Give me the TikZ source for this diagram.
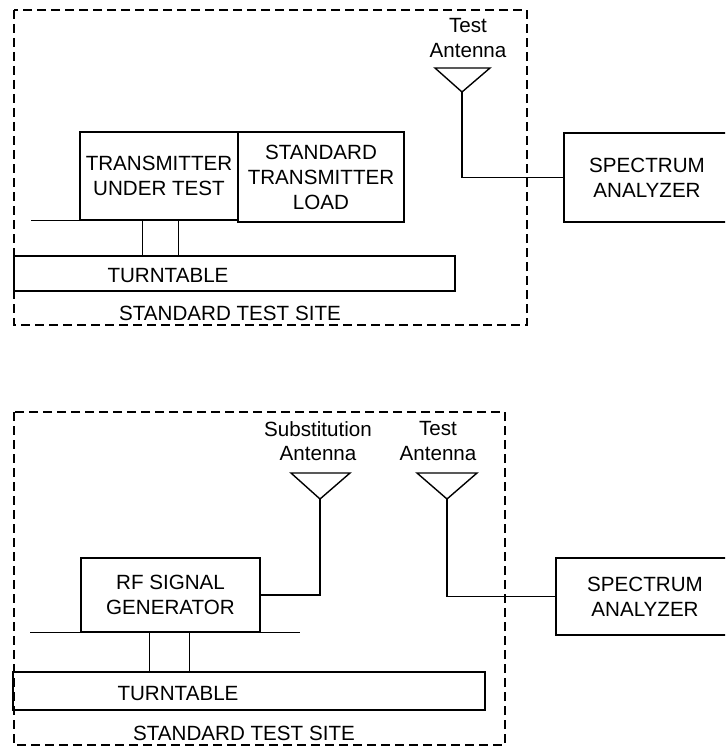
\documentclass[tikz,border=0pt]{standalone}
\usepackage{fontspec}
\setmainfont{Liberation Sans}
\begin{document}
\begin{tikzpicture}[
      x=1pt, y=-1pt,
      B/.style={draw, line width=1.4pt, align=center, inner sep=0pt, font=\fontsize{20.6}{25}\selectfont},
      T/.style={align=center, inner sep=0pt, font=\fontsize{20.6}{24.5}\selectfont},
      W/.style={line width=1.4pt},
      S/.style={dash pattern=on 9pt off 5pt, line width=1.6pt}
    ]
    \useasboundingbox (0,0) rectangle (725,749);
    \clip (0,0) rectangle (725,749);
    % upper setup
    \draw [S] (14,10) rectangle (527,325);
    \draw (159,176) node (tut) [B, minimum width=158pt, minimum height=88pt] {TRANSMITTER\\UNDER TEST};
    \draw (321,177) node (load) [B, minimum width=166pt, minimum height=90pt] {STANDARD\\TRANSMITTER\\LOAD};
    \draw (234.5,273.5) node (tt1) [B, minimum width=441pt, minimum height=35pt] {};
    \draw (168,276) node (ttl1) [T] {TURNTABLE};
    \draw (230,313) node (site1) [T] {STANDARD TEST SITE};
    \draw (647,177.5) node (sa1) [B, minimum width=166pt, minimum height=89pt] {SPECTRUM\\ANALYZER};
    \draw (468,38) node (tal1) [T] {Test\\Antenna};
    \coordinate (ta1) at (462,92);
    \draw [W] ([xshift=-48pt]tut.south west) -- (tut.south west);
    \draw [W] ([xshift=63pt]tut.south west) -- ([xshift=63pt]tut.south west |- tt1.north);
    \draw [W] ([xshift=99pt]tut.south west) -- ([xshift=99pt]tut.south west |- tt1.north);
    \draw [W, line join=miter] (435,68) -- (490,68) -- (ta1) -- cycle;
    \draw [W] (ta1) |- (sa1.west);
    % lower setup
    \draw [S] (14,412) rectangle (505,745);
    \draw (170.5,595) node (rf) [B, minimum width=179pt, minimum height=74pt] {RF SIGNAL\\GENERATOR};
    \draw (249,691) node (tt2) [B, minimum width=472pt, minimum height=38pt] {};
    \draw (178,694) node (ttl2) [T] {TURNTABLE};
    \draw (244,733) node (site2) [T] {STANDARD TEST SITE};
    \draw (645,596.5) node (sa2) [B, minimum width=178pt, minimum height=77pt] {SPECTRUM\\ANALYZER};
    \draw (318,441) node (subl) [T] {Substitution\\Antenna};
    \draw (438,441) node (tal2) [T] {Test\\Antenna};
    \coordinate (sub) at (320,499);
    \coordinate (ta2) at (447,499);
    \draw [W] ([xshift=-50pt]rf.south west) -- ([xshift=39pt]rf.south east);
    \draw [W] ([xshift=69pt]rf.south west) -- ([xshift=69pt]rf.south west |- tt2.north);
    \draw [W] ([xshift=109pt]rf.south west) -- ([xshift=109pt]rf.south west |- tt2.north);
    \draw [W, line join=miter] (291,473) -- (350,473) -- (sub) -- cycle;
    \draw [W, line join=miter] (417,473) -- (477,473) -- (ta2) -- cycle;
    \draw [W] (sub) |- (rf.east);
    \draw [W] (ta2) |- (sa2.west);
  \end{tikzpicture}
\end{document}
